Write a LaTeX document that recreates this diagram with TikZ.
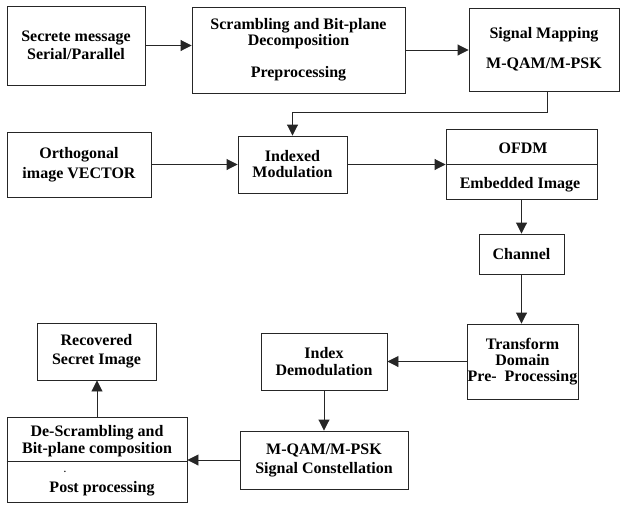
\documentclass[tikz,border=0pt]{standalone}
\usepackage{fontspec}
\setmainfont{Liberation Serif}
\usetikzlibrary{arrows.meta}
\begin{document}
\begin{tikzpicture}[x=1pt,y=-1pt,
  box/.style={draw=black!85, line width=0.9pt, align=center, inner sep=0pt, font=\fontsize{16}{16}\selectfont\bfseries},
  txt/.style={inner sep=0pt, align=center, font=\fontsize{16}{16}\selectfont\bfseries},
  arr/.style={draw=black!85, line width=0.9pt, -{Triangle[length=11pt,width=11pt]}},
  ln/.style={draw=black!85, line width=0.9pt}]
\useasboundingbox (0,0) rectangle (621,504);
% top row
\node[box, minimum width=138pt, minimum height=79pt] (msg) at (76,45.5) {Secrete message\\[2pt]Serial/Parallel};
\node[box, minimum width=213pt, minimum height=86pt] (scr) at (298.5,50) {Scrambling and Bit-plane\\Decomposition\\[16pt]Preprocessing};
\node[box, minimum width=150pt, minimum height=83pt] (map) at (544,49.5) {Signal Mapping\\[14pt]M-QAM/M-PSK};
% second row
\node[box, minimum width=144pt, minimum height=65pt] (orth) at (79,164.5) {Orthogonal\\[4pt]image VECTOR};
\node[box, minimum width=109pt, minimum height=57pt] (idx) at (292.5,164.5) {Indexed\\Modulation};
\node[box, minimum width=151pt, minimum height=70pt] (ofdm) at (521.5,164) {};
\node[txt, anchor=base] (ofdmA) at (523,153) {OFDM};
\node[txt, anchor=base] (ofdmB) at (520,188) {Embedded Image};
% right column
\node[box, minimum width=85pt, minimum height=40pt] (chan) at (521.5,254) {Channel};
\node[box, minimum width=111pt, minimum height=75pt] (trans) at (522.5,361.5) {Transform\\Domain\\Pre-~ Processing};
% bottom
\node[box, minimum width=126pt, minimum height=57pt] (demod) at (324,361.5) {Index\\[1pt]Demodulation};
\node[box, minimum width=168pt, minimum height=58pt] (mqam) at (324,460) {M-QAM/M-PSK\\[3pt]Signal Constellation};
\node[box, minimum width=180pt, minimum height=85pt] (desc) at (97,459.5) {};
\node[txt] (descA) at (97,441.5) {De-Scrambling and\\[1pt]Bit-plane composition};
\node[txt, anchor=base] (descB) at (102,492) {Post processing};
\node[txt, anchor=base, font=\fontsize{9}{9}\selectfont\bfseries] (dot) at (65,472) {.};
\node[box, minimum width=119pt, minimum height=57pt] (rec) at (96.5,351.5) {Recovered\\[3pt]Secret Image};
% dividers
\draw[ln] (ofdm.west) -- (ofdm.east);
\draw[ln] (desc.west |- 0,461) -- (desc.east |- 0,461);
% connectors
\draw[arr] (msg.east) -- (msg.east -| scr.west);
\draw[arr] (scr.east) -- (scr.east -| map.west);
\draw[arr] ([xshift=3pt]map.south) -- ++(0,21) -| (idx.north);
\draw[arr] (orth.east) -- (orth.east -| idx.west);
\draw[arr] (idx.east) -- (idx.east -| ofdm.west);
\draw[arr] (ofdm.south) -- (chan.north);
\draw[arr] (chan.south) -- (chan.south |- trans.north);
\draw[arr] (trans.west) -- (trans.west -| demod.east);
\draw[arr] (demod.south) -- (mqam.north);
\draw[arr] (mqam.west) -- (mqam.west -| desc.east);
\draw[arr] (desc.north) -- (desc.north |- rec.south);
\end{tikzpicture}
\end{document}
